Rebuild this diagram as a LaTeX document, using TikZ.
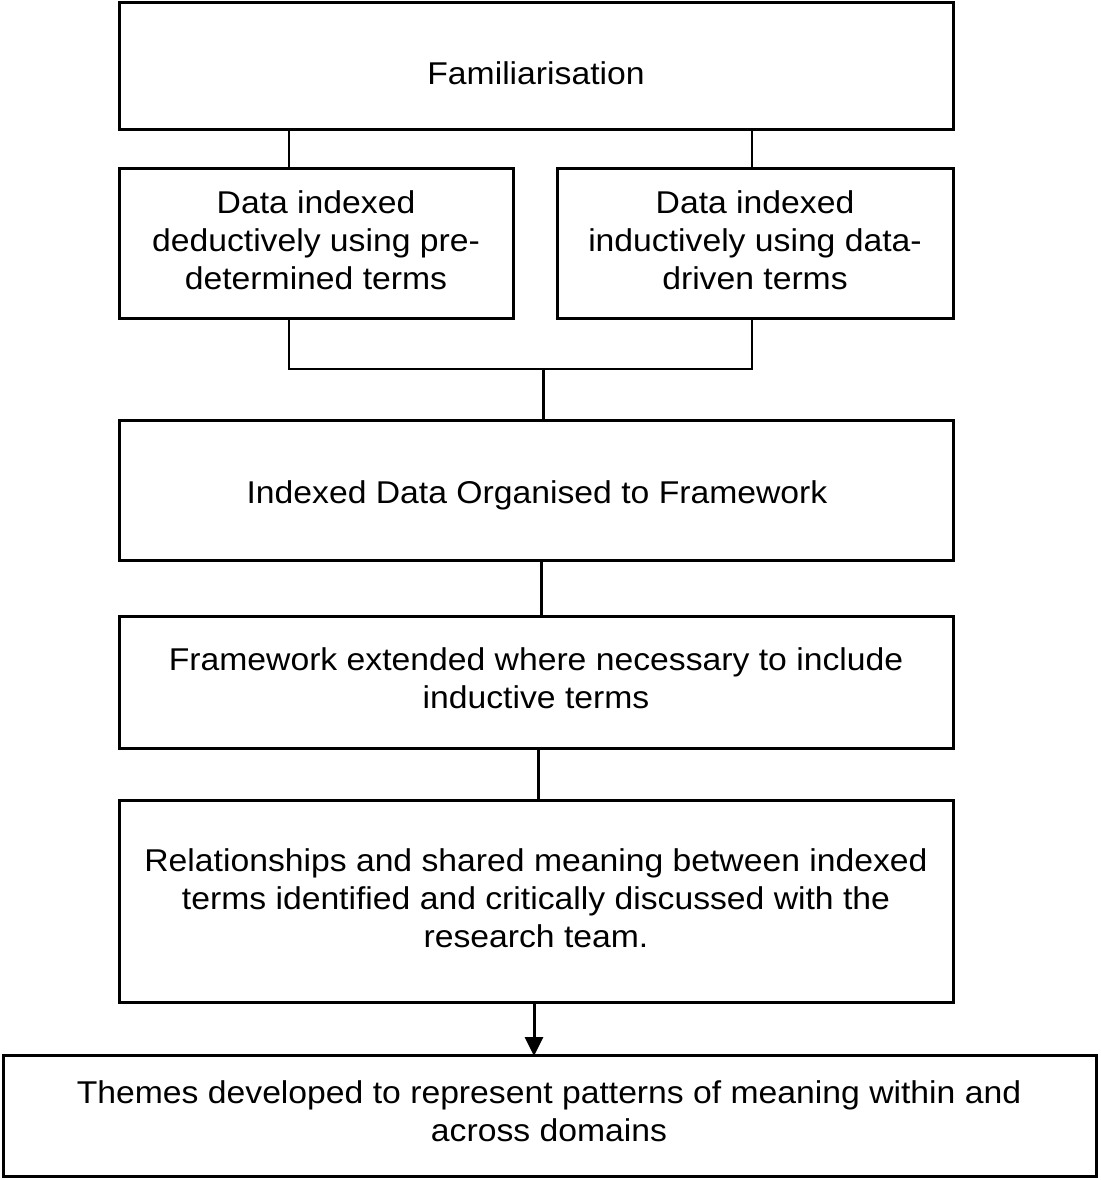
\documentclass[tikz,border=0pt]{standalone}
\usepackage{fontspec}
\setmainfont[FakeStretch=1.07]{Liberation Sans}
\usetikzlibrary{arrows.meta}
\tikzset{
  box/.style={draw=black, line width=3pt, rectangle, inner sep=0pt, outer sep=0pt},
  txt/.style={align=center, inner sep=0pt, font=\fontsize{31.5}{38}\selectfont},
  thin/.style={line width=2pt},
  thick/.style={line width=3pt},
}
\begin{document}
\begin{tikzpicture}[x=1pt,y=-1pt]
\useasboundingbox (0,0) rectangle (1100,1180);
% boxes
\node[box, minimum width=834pt, minimum height=127pt] (b1) at (536,66.5) {};
\node[box, minimum width=394pt, minimum height=150pt] (b2) at (316,243) {};
\node[box, minimum width=396pt, minimum height=150pt] (b3) at (755,243) {};
\node[box, minimum width=834pt, minimum height=140pt] (b4) at (536,490) {};
\node[box, minimum width=834pt, minimum height=132pt] (b5) at (536,682) {};
\node[box, minimum width=834pt, minimum height=202pt] (b6) at (536,901) {};
\node[box, minimum width=1093pt, minimum height=121pt] (b7) at (549.5,1115.5) {};
% texts
\node[txt] (t1) at (536,73) {Familiarisation};
\node[txt] (t2) at (316,240) {Data indexed\\deductively using pre-\\determined terms};
\node[txt] (t3) at (755,240) {Data indexed\\inductively using data-\\driven terms};
\node[txt] (t4) at (537,495) {Indexed Data Organised to Framework};
\node[txt] (t5) at (536,678) {Framework extended where necessary to include\\inductive terms};
\node[txt] (t6) at (536,898) {Relationships and shared meaning between indexed\\terms identified and critically discussed with the\\research team.};
\node[txt] (t7) at (549,1111) {Themes developed to represent patterns of meaning within and\\across domains};
% connectors
\coordinate (fl) at (289,369);
\coordinate (fr) at (752,369);
\coordinate (fm) at (543,369);
\draw[thin] (b1.south -| fl) -- (b2.north -| fl);
\draw[thin] (b1.south -| fr) -- (b3.north -| fr);
\draw[thin] (b2.south -| fl) -- (fl) -- (fr) -- (b3.south -| fr);
\draw[thick] (fm) -- (fm |- b4.north);
\coordinate (c45) at (541,0);
\draw[thick] (b4.south -| c45) -- (b5.north -| c45);
\coordinate (c56) at (538,0);
\draw[thick] (b5.south -| c56) -- (b6.north -| c56);
\coordinate (c67) at (534,0);
\draw[thick, -{Triangle[width=18pt,length=19pt]}, shorten >=-1pt] (b6.south -| c67) -- (b7.north -| c67);
\end{tikzpicture}
\end{document}
